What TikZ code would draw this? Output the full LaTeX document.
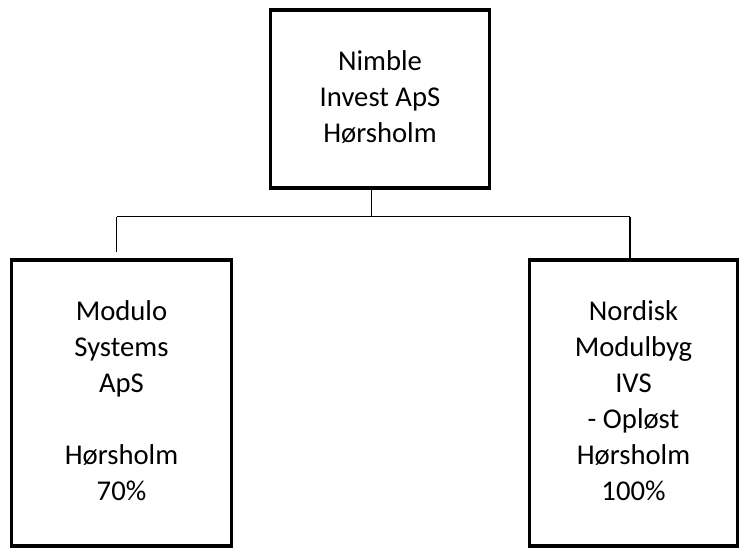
\documentclass[tikz,border=0pt]{standalone}
\usepackage{fontspec}
\setmainfont{Carlito}

\begin{document}
\begin{tikzpicture}[x=7.5pt, y=7.5pt]
\tikzset{ company/.style={draw, line width=2.5pt, align=center, inner sep=0pt,
            font=\fontsize{21.5}{27}\selectfont},
          link/.style={line width=1.1pt},  }

\useasboundingbox (0,0) rectangle (73.9,54.7);

\node [company, minimum width=164pt, minimum height=133.7pt] (N) at (38.0,44.8)
      {\strut Nimble\\Invest ApS\\Hørsholm\strut};
\node [company, minimum width=164.7pt, minimum height=214.3pt] (MS) at (12.15,14.4)
      {\strut Modulo\\Systems\\ApS\\\\Hørsholm\\70\%\strut};
\node [company, minimum width=156pt, minimum height=214.3pt] (NM) at (63.35,14.4)
      {\strut Nordisk\\Modulbyg\\IVS\\- Opløst\\Hørsholm\\100\%\strut};

\coordinate (bus)  at (37.17,33.03);
\coordinate (busL) at (11.67,33.03);
\coordinate (busR) at (63.0,33.03);
\coordinate (endL) at (11.67,29.53);

\draw [link] (N.south -| bus) -- (bus);
\draw [link] (busL) -- (busR);
\draw [link] (busL) -- (endL);
\draw [link] (busR) -- (busR |- NM.north);
\end{tikzpicture}
\end{document}
